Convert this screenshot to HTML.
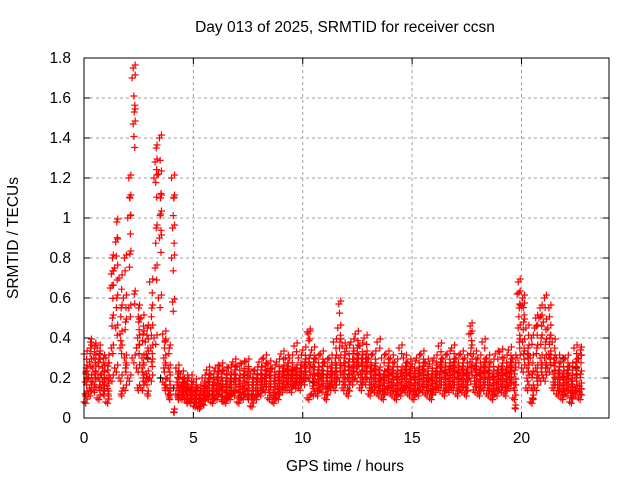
<!DOCTYPE html>
<html><head><meta charset="utf-8"><style>
html,body{margin:0;padding:0;background:#fff;}
svg{display:block;font-family:"Liberation Sans",sans-serif;}
</style></head><body>
<svg id="chart" width="640" height="480" xmlns="http://www.w3.org/2000/svg">
<text x="345" y="32" font-size="15.5" text-anchor="middle" fill="#000">Day 013 of 2025, SRMTID for receiver ccsn</text>
<text x="345" y="471" font-size="15.5" text-anchor="middle" fill="#000">GPS time / hours</text>
<text transform="translate(18,238) rotate(-90)" font-size="15.5" text-anchor="middle" fill="#000">SRMTID / TECUs</text>
<g id="grid"></g>
<g id="ticks"></g>
<g id="marks"></g>
<rect x="84" y="58" width="525" height="360" fill="none" stroke="#000" stroke-width="1"/>
</svg>
<script>
const xTicks=[0,5,10,15,20];
const yTicks=[0,0.2,0.4,0.6,0.8,1,1.2,1.4,1.6,1.8];
const yTickLabels=["0","0.2","0.4","0.6","0.8","1","1.2","1.4","1.6","1.8"];
const times=[0,0.2,0.4,0.6,0.8,1.0,1.2,1.4,1.6,1.8,2.0,2.2,2.4,2.6,2.8,3.0,3.2,3.4,3.6,3.8,4.0,4.2,4.4,4.6,4.8,5.0,5.2,5.4,5.6,5.8,6.0,6.2,6.4,6.6,6.8,7.0,7.2,7.4,7.6,7.8,8.0,8.2,8.4,8.6,8.8,9.0,9.2,9.4,9.6,9.8,10.0,10.2,10.4,10.6,10.8,11.0,11.2,11.4,11.6,11.8,12.0,12.2,12.4,12.6,12.8,13.0,13.2,13.4,13.6,13.8,14.0,14.2,14.4,14.6,14.8,15.0,15.2,15.4,15.6,15.8,16.0,16.2,16.4,16.6,16.8,17.0,17.2,17.4,17.6,17.8,18.0,18.2,18.4,18.6,18.8,19.0,19.2,19.4,19.6,19.8,20.0,20.2,20.4,20.6,20.8,21.0,21.2,21.4,21.6,21.8,22.0,22.2,22.4,22.6,22.8];
const redValues=[
[0.08,0.18,0.25,0.32,0.12,0.22],[0.12,0.28,0.35,0.2,0.15,0.38],[0.18,0.3,0.36,0.25,0.14,0.22],[0.1,0.2,0.32,0.35,0.28,0.15],[0.15,0.25,0.3,0.22,0.18,0.12],
[0.08,0.2,0.26,0.3,0.16,0.12],[0.2,0.35,0.5,0.65,0.72,0.8],[0.25,0.45,0.6,0.75,0.88,0.98],[0.2,0.35,0.55,0.7,0.42,0.12],[0.15,0.3,0.48,0.6,0.8,0.25],
[0.2,0.55,0.82,1.0,1.2,1.1],[0.3,1.47,1.53,1.7,1.75,0.62],[0.25,0.4,0.55,0.35,0.15,0.48],[0.15,0.3,0.42,0.5,0.25,0.2],[0.18,0.32,0.45,0.38,0.22,0.12],
[0.2,0.35,0.55,0.68,0.45,0.28],[0.4,0.75,0.95,1.2,1.28,1.35],[0.6,0.9,1.1,1.22,1.4,1.02],[0.18,0.3,0.38,0.42,0.25,0.15],[0.15,0.25,0.35,0.2,0.12,0.1],
[0.8,0.95,1.1,1.2,0.58,0.03],[0.12,0.15,0.22,0.25,0.18,0.1],[0.1,0.14,0.18,0.22,0.16,0.12],[0.1,0.13,0.17,0.2,0.15,0.08],[0.08,0.12,0.15,0.2,0.1,0.14],
[0.06,0.1,0.14,0.18,0.08,0.12],[0.05,0.08,0.12,0.15,0.1,0.06],[0.07,0.12,0.16,0.2,0.1,0.14],[0.1,0.15,0.2,0.24,0.12,0.18],[0.08,0.12,0.18,0.22,0.15,0.1],
[0.1,0.16,0.22,0.25,0.13,0.19],[0.12,0.17,0.22,0.26,0.15,0.09],[0.08,0.14,0.2,0.24,0.11,0.17],[0.1,0.15,0.2,0.25,0.12,0.18],[0.12,0.18,0.24,0.28,0.14,0.2],
[0.08,0.14,0.2,0.26,0.11,0.17],[0.1,0.16,0.22,0.27,0.13,0.2],[0.12,0.18,0.23,0.28,0.15,0.1],[0.06,0.12,0.18,0.22,0.1,0.15],[0.1,0.15,0.2,0.24,0.12,0.18],
[0.12,0.18,0.24,0.28,0.15,0.2],[0.14,0.2,0.26,0.3,0.17,0.22],[0.1,0.17,0.23,0.27,0.14,0.2],[0.08,0.14,0.2,0.25,0.11,0.17],[0.1,0.16,0.22,0.28,0.13,0.19],
[0.14,0.2,0.25,0.32,0.17,0.22],[0.15,0.2,0.26,0.3,0.18,0.23],[0.14,0.2,0.24,0.3,0.17,0.22],[0.16,0.2,0.25,0.36,0.18,0.23],[0.15,0.2,0.25,0.3,0.18,0.22],
[0.18,0.22,0.28,0.34,0.2,0.25],[0.1,0.2,0.3,0.43,0.42,0.25],[0.12,0.2,0.28,0.34,0.16,0.24],[0.12,0.18,0.24,0.3,0.15,0.21],[0.14,0.2,0.26,0.32,0.17,0.22],
[0.1,0.16,0.22,0.28,0.13,0.2],[0.15,0.2,0.25,0.3,0.17,0.22],[0.15,0.22,0.3,0.38,0.18,0.25],[0.2,0.3,0.38,0.45,0.57,0.25],[0.15,0.22,0.3,0.36,0.18,0.26],
[0.12,0.2,0.28,0.35,0.15,0.24],[0.18,0.25,0.32,0.38,0.22,0.28],[0.2,0.28,0.35,0.42,0.25,0.3],[0.15,0.22,0.3,0.36,0.18,0.26],[0.18,0.25,0.32,0.4,0.22,0.28],
[0.12,0.18,0.25,0.3,0.15,0.22],[0.14,0.2,0.26,0.32,0.17,0.23],[0.12,0.18,0.24,0.38,0.15,0.2],[0.1,0.16,0.22,0.3,0.13,0.19],[0.14,0.2,0.26,0.32,0.16,0.23],
[0.12,0.18,0.24,0.3,0.15,0.21],[0.1,0.16,0.22,0.28,0.13,0.19],[0.12,0.18,0.24,0.35,0.15,0.21],[0.14,0.2,0.26,0.3,0.16,0.23],[0.12,0.18,0.24,0.28,0.15,0.21],
[0.1,0.16,0.22,0.27,0.13,0.19],[0.12,0.18,0.24,0.3,0.15,0.21],[0.14,0.2,0.26,0.32,0.17,0.23],[0.12,0.18,0.22,0.28,0.15,0.2],[0.1,0.16,0.22,0.27,0.13,0.19],
[0.14,0.2,0.25,0.3,0.17,0.22],[0.15,0.22,0.28,0.36,0.18,0.25],[0.12,0.18,0.24,0.3,0.15,0.21],[0.14,0.2,0.26,0.32,0.17,0.23],[0.15,0.22,0.28,0.35,0.18,0.25],
[0.12,0.18,0.24,0.3,0.15,0.21],[0.14,0.2,0.26,0.32,0.17,0.23],[0.12,0.18,0.24,0.3,0.15,0.21],[0.2,0.28,0.35,0.42,0.46,0.25],[0.14,0.2,0.26,0.32,0.17,0.23],
[0.12,0.18,0.24,0.3,0.15,0.21],[0.15,0.22,0.28,0.38,0.18,0.25],[0.12,0.18,0.24,0.3,0.15,0.21],[0.1,0.16,0.22,0.28,0.13,0.19],[0.12,0.18,0.24,0.32,0.15,0.21],
[0.14,0.2,0.26,0.33,0.17,0.23],[0.12,0.18,0.24,0.3,0.15,0.21],[0.16,0.22,0.28,0.34,0.19,0.25],[0.1,0.18,0.24,0.3,0.15,0.05],[0.3,0.45,0.55,0.62,0.68,0.38],
[0.25,0.38,0.48,0.56,0.6,0.32],[0.15,0.25,0.35,0.45,0.2,0.3],[0.08,0.15,0.22,0.3,0.4,0.1],[0.15,0.25,0.35,0.45,0.5,0.2],[0.2,0.3,0.4,0.5,0.55,0.25],
[0.2,0.3,0.38,0.48,0.6,0.25],[0.25,0.32,0.4,0.45,0.55,0.3],[0.15,0.22,0.3,0.38,0.18,0.26],[0.12,0.18,0.24,0.3,0.15,0.21],[0.1,0.16,0.22,0.28,0.13,0.19],
[0.12,0.18,0.24,0.3,0.15,0.21],[0.08,0.14,0.2,0.26,0.11,0.17],[0.12,0.2,0.28,0.35,0.15,0.24],[0.1,0.16,0.22,0.3,0.13,0.34]
];
const blackTimes=[0.1,2.9,3.5,4.1,6.3,10.5,21.9,22.5];
const blackValues=[[0.22],[0.3],[0.2],[0.15],[0.2],[0.18],[0.3],[0.25]];

const X0=84,X1=609,Y0=418,Y1=58,XMAX=24,YMAX=1.8;
function xs(t){return X0+(X1-X0)*t/XMAX;}
function ys(v){return Y0-(Y0-Y1)*v/YMAX;}
const NS="http://www.w3.org/2000/svg";
const grid=document.getElementById('grid'),ticks=document.getElementById('ticks'),marks=document.getElementById('marks');
function mk(tag,attrs,parent){const e=document.createElementNS(NS,tag);for(const k in attrs)e.setAttribute(k,attrs[k]);parent.appendChild(e);return e;}
xTicks.forEach(t=>{
  const x=xs(t);
  if(t>0){const g=mk('line',{x1:x,x2:x,y1:Y1,y2:Y0,stroke:'#a0a0a0','stroke-dasharray':'3,3'},grid);
  
  }
  mk('line',{x1:x,x2:x,y1:Y0,y2:Y0-6,stroke:'#000'},ticks);
  mk('line',{x1:x,x2:x,y1:Y1,y2:Y1+6,stroke:'#000'},ticks);
  const l=mk('text',{x:x,y:Y0+25,'font-size':15.5,'text-anchor':'middle'},ticks);
  l.textContent=String(t);
  
  
});
yTicks.forEach((v,i)=>{
  const y=ys(v);
  if(v>0&&v<YMAX){const g=mk('line',{x1:X0,x2:X1,y1:y,y2:y,stroke:'#a0a0a0','stroke-dasharray':'3,3'},grid);
  
  }
  mk('line',{x1:X0,x2:X0+6,y1:y,y2:y,stroke:'#000'},ticks);
  mk('line',{x1:X1,x2:X1-6,y1:y,y2:y,stroke:'#000'},ticks);
  const l=mk('text',{x:X0-13,y:y+5,'font-size':15.5,'text-anchor':'end'},ticks);
  l.textContent=yTickLabels[i];
  
  
});
function cross(t,v,col){
  const x=xs(t),y=ys(v);
  const p=mk('path',{d:`M${x-3.5},${y}h7M${x},${y-3.5}v7`,stroke:col,'stroke-width':1.2,fill:'none'},marks);
  
  
}
blackTimes.forEach((t,i)=>{const b=blackValues[i]; if(b) b.forEach(v=>cross(t,v,'#000'));});
times.forEach((t,i)=>{
  const vals=redValues[i];
  if(!vals) return;
  vals.forEach((v,j)=>{
    cross(t+(j%3)*0.05,v,'#ff0000');
    cross(t+0.08+(j%2)*0.04,v*0.92,'#ff0000');
    cross(t+0.14,Math.min(v+0.015,YMAX),'#ff0000');
  });
});
</script>
</body></html>
